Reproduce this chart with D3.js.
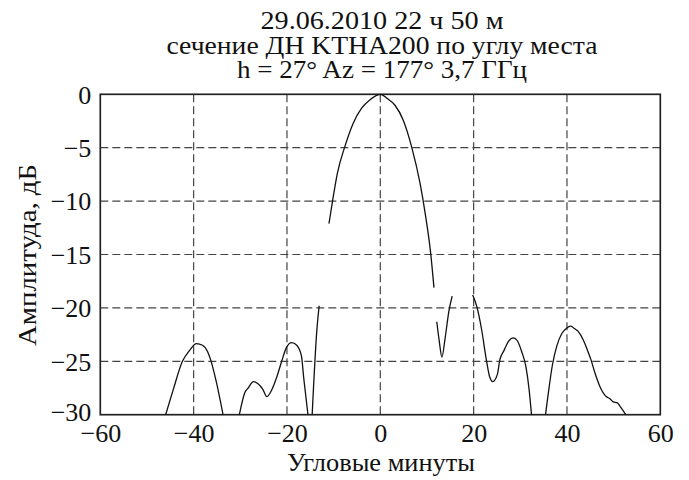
<!DOCTYPE html>
<html><head><meta charset="utf-8">
<script src="https://cdn.jsdelivr.net/npm/d3@7"></script>
<style>body{margin:0;background:#fff}svg{display:block}text{font-family:"Liberation Serif","DejaVu Serif",serif;fill:#111}</style>
</head><body>
<svg id="c" width="689" height="480"></svg>
<script>
const titleLines = ["29.06.2010 22 ч 50 м", "сечение ДН KTHA200 по углу места", "h = 27°  Az = 177°  3,7 ГГц"];
const xLabel = "Угловые минуты";
const yLabel = "Амплитуда, дБ";
const xTicks = [-60, -40, -20, 0, 20, 40, 60];
const yTicks = [0, -5, -10, -15, -20, -25, -30];
const xGrid = [-40, -20, 0, 20, 40];
const yGrid = [-5, -10, -15, -20, -25];
// angle (arc minutes) and amplitude (dB); null marks a gap between measured fragments
const angles = [
  -46.0,-44.4,-42.4,-40.9,-39.4,-38.1,-37.0,-36.4,-35.1,-33.7, null,
  -30.2,-29.0,-28.3,-27.2,-26.2,-25.2,-24.3,-23.4,-22.2,-21.1,-20.1,-19.0,-17.9,-16.9,-16.4,-15.5, null,
  -14.6,-13.6,-13.1, null,
  -11.0,-10.2,-9.2,-7.6,-5.8,-4.0,-2.2,0.1,1.5,3.1,4.9,6.7,8.5,9.6,10.8,11.5, null,
  12.1,12.6,13.2,13.9,14.7,15.4, null,
  19.8,20.7,21.7,22.7,23.4,24.1,25.1,25.6,26.5,27.5,28.5,29.4,30.3,31.2,31.9,32.4, null,
  35.4,36.0,36.9,37.8,38.9,39.9,40.8,41.5,42.4,43.5,44.6,45.1,46.0,47.1,48.4,49.2,49.9,50.8,51.5,52.6
];
const amplitudes = [
  -30,-27.7,-25.0,-24.0,-23.35,-23.5,-24.1,-24.8,-27.0,-30, null,
  -30,-27.9,-27.5,-26.9,-27.1,-27.6,-28.3,-27.8,-26.5,-24.95,-23.7,-23.25,-23.5,-24.5,-26.6,-30, null,
  -30,-22.1,-19.8, null,
  -12.1,-9.9,-7.4,-4.9,-2.7,-1.3,-0.5,0.0,-0.4,-1.0,-2.4,-4.9,-8.3,-11.1,-14.9,-18.1, null,
  -21.3,-23.0,-24.6,-22.8,-20.3,-18.9, null,
  -18.8,-19.9,-22.0,-24.8,-26.4,-26.9,-26.2,-24.9,-24.0,-23.1,-22.8,-23.1,-24.1,-25.5,-27.7,-30, null,
  -30,-28.0,-25.3,-23.6,-22.4,-21.9,-21.7,-21.9,-22.2,-23.0,-24.2,-24.8,-26.1,-27.4,-28.3,-28.5,-28.8,-28.9,-29.3,-30
];

const svg = d3.select("#c");
const L = 100.3, R = 660.3, T = 94.3, B = 414.7;
const x = d3.scaleLinear().domain([-60, 60]).range([L, R]);
const y = d3.scaleLinear().domain([-30, 0]).range([B, T]);
const fmt = d => d < 0 ? "\u2212" + Math.abs(d) : String(d);

// title
const titleWidths = [243, 431, 290];
svg.selectAll("text.title").data(titleLines).join("text")
  .attr("class", "title")
  .attr("x", 382).attr("y", (d, i) => 29 + i * 24.5)
  .attr("text-anchor", "middle").attr("font-size", 25)
  .attr("textLength", (d, i) => titleWidths[i]).attr("lengthAdjust", "spacingAndGlyphs")
  .text(d => d);

// grid
const g = svg.append("g");
g.selectAll("line.gx").data(xGrid).join("line")
  .attr("x1", d => x(d)).attr("x2", d => x(d)).attr("y1", T).attr("y2", B)
  .attr("stroke", "#444").attr("stroke-width", 1.2).attr("stroke-dasharray", "8,4");
g.selectAll("line.gy").data(yGrid).join("line")
  .attr("y1", d => y(d)).attr("y2", d => y(d)).attr("x1", L).attr("x2", R)
  .attr("stroke", "#444").attr("stroke-width", 1.2).attr("stroke-dasharray", "8,4");

// axes via d3 axis generators
const xa = svg.append("g").attr("transform", `translate(0,${B})`)
  .call(d3.axisBottom(x).tickValues(xTicks).tickSize(0).tickPadding(10).tickFormat(fmt));
const ya = svg.append("g").attr("transform", `translate(${L},0)`)
  .call(d3.axisLeft(y).tickValues(yTicks).tickSize(0).tickPadding(9).tickFormat(fmt));
[xa, ya].forEach(a => {
  a.select(".domain").remove();
  a.selectAll("text").attr("font-size", 26).attr("font-family", "Liberation Serif, serif").attr("fill", "#111");
});
xa.selectAll("text").attr("dy", "0.68em");
ya.selectAll("text").attr("dy", d => d === -30 ? "0.22em" : "0.34em");

// frame
svg.append("rect").attr("x", L).attr("y", T).attr("width", R - L).attr("height", B - T)
  .attr("fill", "none").attr("stroke", "#222").attr("stroke-width", 1.7);

// curve
const data = angles.map((a, i) => [a, amplitudes[i]]);
const line = d3.line().defined(d => d[0] !== null && d[1] !== null)
  .x(d => x(d[0])).y(d => y(d[1])).curve(d3.curveMonotoneX);
svg.append("path").datum(data).attr("d", line)
  .attr("fill", "none").attr("stroke", "#111").attr("stroke-width", 1.3).attr("stroke-linejoin", "round");

// axis labels
svg.append("text").attr("x", 381).attr("y", 471).attr("text-anchor", "middle").attr("font-size", 25)
  .attr("textLength", 188).attr("lengthAdjust", "spacingAndGlyphs").text(xLabel);
svg.append("text").attr("transform", "translate(36,255) rotate(-90)").attr("text-anchor", "middle").attr("font-size", 25)
  .attr("textLength", 182).attr("lengthAdjust", "spacingAndGlyphs").text(yLabel);
</script>
</body></html>
